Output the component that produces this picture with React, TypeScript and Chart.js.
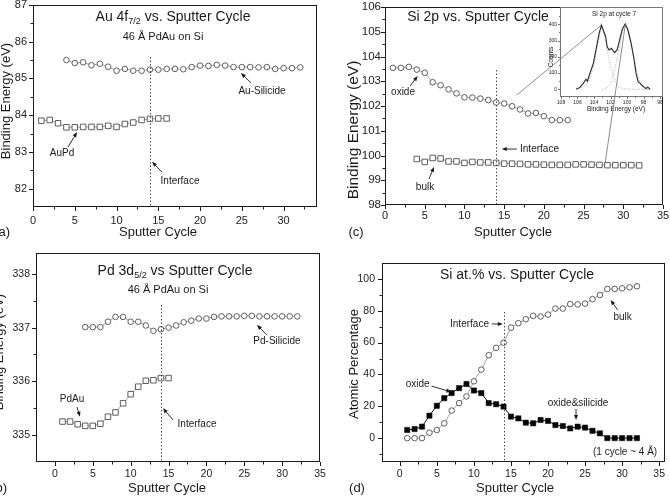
import { useEffect, useRef } from "react";
import { Chart, registerables } from "chart.js";

Chart.register(...registerables);

const W = 670;
const H = 500;
const FONT = '"Liberation Sans", Arial, Helvetica, sans-serif';

// ---------- (a) Au 4f7/2 binding energy ----------
const auSilicideCycles = [4, 5, 6, 7, 8, 9, 10, 11, 12, 13, 14, 15, 16, 17, 18, 19, 20, 21, 22, 23, 24, 25, 26, 27, 28, 29, 30, 31, 32];
const auSilicideBE = [85.5, 85.42, 85.44, 85.36, 85.4, 85.32, 85.21, 85.26, 85.21, 85.21, 85.24, 85.24, 85.26, 85.26, 85.25, 85.31, 85.35, 85.34, 85.37, 85.35, 85.31, 85.31, 85.31, 85.3, 85.31, 85.26, 85.28, 85.28, 85.3];
const auPdCycles = [1, 2, 3, 4, 5, 6, 7, 8, 9, 10, 11, 12, 13, 14, 15, 16];
const auPdBE = [83.85, 83.87, 83.78, 83.67, 83.67, 83.68, 83.68, 83.68, 83.71, 83.68, 83.76, 83.8, 83.87, 83.9, 83.91, 83.91];

// ---------- (b) Pd 3d5/2 binding energy ----------
const pdSilicideCycles = [4, 5, 6, 7, 8, 9, 10, 11, 12, 13, 14, 15, 16, 17, 18, 19, 20, 21, 22, 23, 24, 25, 26, 27, 28, 29, 30, 31, 32];
const pdSilicideBE = [337.01, 337.01, 337.01, 337.11, 337.2, 337.2, 337.11, 337.11, 337.04, 336.94, 336.97, 337.0, 337.04, 337.1, 337.13, 337.17, 337.17, 337.2, 337.21, 337.21, 337.21, 337.22, 337.22, 337.21, 337.21, 337.21, 337.21, 337.21, 337.21];
const pdAuCycles = [1, 2, 3, 4, 5, 6, 7, 8, 9, 10, 11, 12, 13, 14, 15];
const pdAuBE = [335.25, 335.25, 335.2, 335.17, 335.17, 335.21, 335.34, 335.42, 335.59, 335.76, 335.9, 336.01, 336.02, 336.06, 336.06];

// ---------- (c) Si 2p binding energy ----------
const siOxideCycles = [1, 2, 3, 4, 5, 6, 7, 8, 9, 10, 11, 12, 13, 14, 15, 16, 17, 18, 19, 20, 21, 22, 23];
const siOxideBE = [103.54, 103.54, 103.58, 103.47, 103.34, 102.96, 102.84, 102.67, 102.51, 102.35, 102.34, 102.3, 102.24, 102.14, 102.1, 101.99, 101.86, 101.7, 101.72, 101.59, 101.43, 101.43, 101.43];
const siBulkCycles = [4, 5, 6, 7, 8, 9, 10, 11, 12, 13, 14, 15, 16, 17, 18, 19, 20, 21, 22, 23, 24, 25, 26, 27, 28, 29, 30, 31, 32];
const siBulkBE = [99.86, 99.74, 99.9, 99.88, 99.76, 99.76, 99.7, 99.74, 99.72, 99.72, 99.7, 99.67, 99.67, 99.66, 99.64, 99.64, 99.63, 99.62, 99.62, 99.62, 99.64, 99.64, 99.63, 99.62, 99.61, 99.61, 99.61, 99.61, 99.6];

// Inset: Si 2p spectrum at cycle 7 with its two fitted components
const spectrumBE = [106.17, 105.7, 105.3, 104.97, 104.8, 104.56, 104.08, 103.69, 103.37, 103.09, 102.81, 102.58, 102.41, 102.17, 101.9, 101.5, 101.2, 100.9, 100.57, 100.22, 99.9, 99.5, 99.17, 98.9, 98.66, 98.4, 98.2, 97.9, 97.7, 97.5, 97.2];
const spectrumCounts = [0, 12, 37, 62, 50, 88, 160, 262, 345, 395, 354, 323, 262, 242, 252, 225, 242, 303, 369, 402, 366, 283, 191, 98, 47, 37, 25, 12, 5, 15, 0];
const fitOxideBE = [106.1, 105.5, 105, 104.5, 104, 103.5, 103.1, 102.7, 102.3, 102, 101.5, 101, 100.5, 100, 99, 98, 97.2];
const fitOxideCounts = [3, 10, 25, 65, 150, 290, 385, 330, 215, 140, 55, 15, 5, 2, 0, 0, 0];
const fitBulkBE = [103, 102.5, 102, 101.5, 101, 100.6, 100.2, 99.8, 99.3, 98.8, 98.3, 97.8, 97.2];
const fitBulkCounts = [0, 5, 35, 120, 235, 350, 400, 360, 230, 100, 30, 8, 0];

// ---------- (d) Si atomic percentage ----------
const atCycles = [1, 2, 3, 4, 5, 6, 7, 8, 9, 10, 11, 12, 13, 14, 15, 16, 17, 18, 19, 20, 21, 22, 23, 24, 25, 26, 27, 28, 29, 30, 31, 32];
const siBulkPct = [0, 0, 0, 3.4, 5.1, 9.3, 17.3, 22, 26.2, 35.7, 43, 52.1, 56.7, 59.9, 69.4, 72.2, 74.7, 76.8, 76.4, 77.6, 81.4, 81.4, 84.2, 84, 84.5, 87.3, 89.9, 93.7, 93.7, 94.1, 94.7, 95.4];
const siOxidePct = [5.1, 5.7, 7.2, 14.1, 20.3, 25.1, 28.3, 31.4, 34, 29.9, 28.3, 22, 21.3, 19.8, 13.5, 12.4, 9.7, 9.3, 11.4, 10.8, 8.2, 7.6, 6.1, 7.2, 6.6, 4.6, 3, 0, 0, 0, 0, 0];

// Tick values
const cycleTicks = [0, 5, 10, 15, 20, 25, 30, 35];
const cycleMinor = [2.5, 7.5, 12.5, 17.5, 22.5, 27.5, 32.5];
const auTicks = [82, 83, 84, 85, 86, 87];
const auMinor = [82.5, 83.5, 84.5, 85.5, 86.5];
const pdTicks = [335, 336, 337, 338];
const pdMinor = [335.5, 336.5, 337.5];
const siTicks = [98, 99, 100, 101, 102, 103, 104, 105, 106];
const siMinor = [98.5, 99.5, 100.5, 101.5, 102.5, 103.5, 104.5, 105.5];
const pctTicks = [0, 20, 40, 60, 80, 100];
const pctMinor = [-10, 10, 30, 50, 70, 90];
const insetBETicks = [96, 98, 100, 102, 104, 106, 108];
const insetBEMinor = [97, 99, 101, 103, 105, 107];
const insetCountTicks = [0, 100, 200, 300, 400];
const insetCountMinor = [50, 150, 250, 350, 450];

const INTERFACE_CYCLE = 14;

type Pt = [number, number];
type Style = "circle" | "square" | "filled" | "spectrum" | "fit";
interface Series { xs: number[]; ys: number[]; style: Style }
interface AxisSpec { min: number; max: number; major: number[]; minor: number[]; reverse?: boolean; font: number; pad: number }
interface RichPart { t: string; sub?: boolean }
interface TextItem { parts: RichPart[]; x: number; y: number; size: number; align?: CanvasTextAlign; rotate?: boolean }
interface Note { text: string; at: Pt; align?: CanvasTextAlign }
interface PanelSpec {
  area: { left: number; top: number; right: number; bottom: number };
  x: AxisSpec;
  y: AxisSpec;
  series: Series[];
  iface?: number;
  notes: Note[];
  arrows: { from: Pt; to: Pt }[];
  texts: TextItem[];
  noteSize?: number;
  frameColor?: string;
  tickLen?: [number, number];
}

const txt = (s: string): RichPart[] => [{ t: s }];

const panelA: PanelSpec = {
  area: { left: 33, top: 5, right: 317, bottom: 207 },
  x: { min: 0, max: 34, major: cycleTicks.slice(0, 7), minor: cycleMinor, font: 11, pad: 7 },
  y: { min: 81.5, max: 87, major: auTicks, minor: auMinor, font: 11, pad: 6 },
  series: [
    { xs: auSilicideCycles, ys: auSilicideBE, style: "circle" },
    { xs: auPdCycles, ys: auPdBE, style: "square" },
  ],
  iface: 85.58,
  notes: [
    { text: "AuPd", at: [3.47, 82.97] },
    { text: "Au-Silicide", at: [27.42, 84.66] },
    { text: "Interface", at: [17.6, 82.21] },
  ],
  arrows: [
    { from: [4.19, 83.13], to: [5.27, 83.54] },
    { from: [26.1, 84.88], to: [24.9, 85.15] },
    { from: [15.44, 82.45], to: [14.25, 82.73] },
  ],
  texts: [
    { parts: [{ t: "Au 4f" }, { t: "7/2", sub: true }, { t: " vs. Sputter Cycle" }], x: 173, y: 17, size: 14 },
    { parts: txt("46 Å PdAu on Si"), x: 163, y: 37, size: 11 },
    { parts: txt("Binding Energy (eV)"), x: 6, y: 101, size: 13, rotate: true },
    { parts: txt("Sputter Cycle"), x: 158, y: 232, size: 13 },
    { parts: txt("(a)"), x: 10, y: 232, size: 13, align: "right" },
  ],
};

const panelB: PanelSpec = {
  area: { left: 36, top: 252.5, right: 320, bottom: 461.8 },
  x: { min: -2.5, max: 35, major: cycleTicks, minor: cycleMinor, font: 10.5, pad: 6 },
  y: { min: 334.5, max: 338.4, major: pdTicks, minor: pdMinor, font: 10.5, pad: 6 },
  series: [
    { xs: pdSilicideCycles, ys: pdSilicideBE, style: "circle" },
    { xs: pdAuCycles, ys: pdAuBE, style: "square" },
  ],
  iface: 337.42,
  notes: [
    { text: "PdAu", at: [2.25, 335.67] },
    { text: "Pd-Silicide", at: [29.32, 336.75] },
    { text: "Interface", at: [18.76, 335.2] },
  ],
  arrows: [
    { from: [2.91, 335.52], to: [3.31, 335.34] },
    { from: [28.0, 336.86], to: [26.68, 337.05] },
    { from: [15.59, 335.28], to: [14.27, 335.5] },
  ],
  texts: [
    { parts: [{ t: "Pd 3d" }, { t: "5/2", sub: true }, { t: " vs Sputter Cycle" }], x: 175, y: 271, size: 14 },
    { parts: txt("46 Å PdAu on Si"), x: 168, y: 290, size: 11 },
    { parts: txt("Binding Energy (eV)"), x: -1, y: 352, size: 13, rotate: true },
    { parts: txt("Sputter Cycle"), x: 167, y: 488, size: 13 },
    { parts: txt("(b)"), x: 7, y: 488, size: 13, align: "right" },
  ],
};

const panelC: PanelSpec = {
  area: { left: 385, top: 7, right: 663, bottom: 205 },
  x: { min: 0, max: 35, major: cycleTicks, minor: cycleMinor, font: 11, pad: 4 },
  y: { min: 98, max: 106, major: siTicks, minor: siMinor, font: 11.5, pad: 4 },
  series: [
    { xs: siOxideCycles, ys: siOxideBE, style: "circle" },
    { xs: siBulkCycles, ys: siBulkBE, style: "square" },
  ],
  iface: 103.45,
  notes: [
    { text: "oxide", at: [2.27, 102.54] },
    { text: "bulk", at: [5.04, 98.73] },
    { text: "Interface", at: [17.0, 100.26], align: "left" },
  ],
  arrows: [
    { from: [3.15, 102.81], to: [4.12, 103.21] },
    { from: [5.54, 99.05], to: [6.17, 99.54] },
    { from: [16.6, 100.26], to: [14.7, 100.26] },
  ],
  texts: [
    { parts: txt("Si 2p vs. Sputter Cycle"), x: 478, y: 17, size: 14 },
    { parts: txt("Binding Energy (eV)"), x: 354, y: 130, size: 15.5, rotate: true },
    { parts: txt("Sputter Cycle"), x: 513, y: 232, size: 13 },
    { parts: txt("(c)"), x: 356, y: 232, size: 13 },
  ],
};

const panelD: PanelSpec = {
  area: { left: 382, top: 263, right: 668, bottom: 462 },
  x: { min: -2.4, max: 35.8, major: cycleTicks, minor: cycleMinor, font: 10.5, pad: 6 },
  y: { min: -15, max: 110, major: pctTicks, minor: pctMinor, font: 10.5, pad: 7 },
  series: [
    { xs: atCycles, ys: siBulkPct, style: "circle" },
    { xs: atCycles, ys: siOxidePct, style: "filled" },
  ],
  iface: 79.2,
  notes: [
    { text: "Interface", at: [12.03, 71.7], align: "right" },
    { text: "bulk", at: [30.06, 76.1] },
    { text: "oxide", at: [2.41, 34.0] },
    { text: "oxide&silicide", at: [24.05, 22.1] },
    { text: "(1 cycle ~ 4 Å)", at: [34.73, -8.7], align: "right" },
  ],
  arrows: [
    { from: [12.43, 71.7], to: [13.9, 71.7] },
    { from: [29.39, 80.5], to: [28.45, 86.8] },
    { from: [4.28, 32.7], to: [6.95, 29.0] },
    { from: [23.78, 18.3], to: [23.78, 11.4] },
  ],
  texts: [
    { parts: txt("Si at.% vs. Sputter Cycle"), x: 517, y: 275, size: 14 },
    { parts: txt("Atomic Percentage"), x: 354, y: 364, size: 13, rotate: true },
    { parts: txt("Sputter Cycle"), x: 515, y: 488, size: 13 },
    { parts: txt("(d)"), x: 357, y: 488, size: 13 },
  ],
};

const insetSpec: PanelSpec = {
  area: { left: 560, top: 7, right: 663, bottom: 97 },
  x: { min: 95.64, max: 108.12, reverse: true, major: insetBETicks, minor: insetBEMinor, font: 5, pad: 3 },
  y: { min: -47, max: 506, major: insetCountTicks, minor: insetCountMinor, font: 5, pad: 3 },
  series: [
    { xs: spectrumBE, ys: spectrumCounts, style: "spectrum" },
    { xs: fitOxideBE, ys: fitOxideCounts, style: "fit" },
    { xs: fitBulkBE, ys: fitBulkCounts, style: "fit" },
  ],
  notes: [],
  arrows: [],
  texts: [
    { parts: txt("Si 2p at cycle 7"), x: 614, y: 14, size: 6.5 },
    { parts: txt("Counts"), x: 551, y: 57, size: 6.5, rotate: true },
    { parts: txt("Binding Energy (eV)"), x: 616, y: 109, size: 6.5 },
  ],
  frameColor: "#777",
  tickLen: [2, 1],
};

// Guide lines from the main Si 2p plot (c) to the matching peaks of the inset
const insetLinks: { from: Pt; to: Pt }[] = [
  { from: [16.58, 102.44], to: [103.0, 400] },
  { from: [27.71, 99.68], to: [100.2, 400] },
];

function datasetFor(s: Series) {
  const data = s.xs.map((x, i) => ({ x, y: s.ys[i] }));
  const base = { data, tension: 0, fill: false };
  switch (s.style) {
    case "circle":
      return { ...base, borderColor: "#8c8c8c", borderWidth: 0.8, pointStyle: "circle", pointRadius: 2.8, pointBorderColor: "#4d4d4d", pointBackgroundColor: "#ffffff", pointBorderWidth: 0.9 };
    case "square":
      return { ...base, borderColor: "#8c8c8c", borderWidth: 0.8, pointStyle: "rect", pointRadius: 3.9, pointBorderColor: "#4d4d4d", pointBackgroundColor: "#ffffff", pointBorderWidth: 0.9 };
    case "filled":
      return { ...base, borderColor: "#111111", borderWidth: 1, pointStyle: "rect", pointRadius: 3.7, pointBorderColor: "#000000", pointBackgroundColor: "#000000", pointBorderWidth: 0.5 };
    case "spectrum":
      return { ...base, borderColor: "#262626", borderWidth: 1.1, pointRadius: 0 };
    default:
      return { ...base, borderColor: "#9a9a9a", borderWidth: 0.8, borderDash: [1, 1.5], pointRadius: 0 };
  }
}

function drawRich(ctx: CanvasRenderingContext2D, item: TextItem) {
  const mainFont = `${item.size}px ${FONT}`;
  const subFont = `${Math.round(item.size * 0.62)}px ${FONT}`;
  const widths = item.parts.map((p) => {
    ctx.font = p.sub ? subFont : mainFont;
    return ctx.measureText(p.t).width;
  });
  const total = widths.reduce((a, b) => a + b, 0);
  ctx.save();
  ctx.translate(item.x, item.y);
  if (item.rotate) ctx.rotate(-Math.PI / 2);
  const align = item.align ?? "center";
  let x = align === "center" ? -total / 2 : align === "right" ? -total : 0;
  ctx.textAlign = "left";
  ctx.textBaseline = "middle";
  ctx.fillStyle = "#1a1a1a";
  item.parts.forEach((p, i) => {
    ctx.font = p.sub ? subFont : mainFont;
    ctx.fillText(p.t, x, p.sub ? item.size * 0.32 : 0);
    x += widths[i];
  });
  ctx.restore();
}

function drawArrow(ctx: CanvasRenderingContext2D, x1: number, y1: number, x2: number, y2: number) {
  const ang = Math.atan2(y2 - y1, x2 - x1);
  const len = 5;
  const half = 2;
  ctx.beginPath();
  ctx.moveTo(x1, y1);
  ctx.lineTo(x2 - Math.cos(ang) * len * 0.8, y2 - Math.sin(ang) * len * 0.8);
  ctx.stroke();
  ctx.beginPath();
  ctx.moveTo(x2, y2);
  ctx.lineTo(x2 - Math.cos(ang) * len - Math.sin(ang) * half, y2 - Math.sin(ang) * len + Math.cos(ang) * half);
  ctx.lineTo(x2 - Math.cos(ang) * len + Math.sin(ang) * half, y2 - Math.sin(ang) * len - Math.cos(ang) * half);
  ctx.closePath();
  ctx.fill();
}

function decorPlugin(spec: PanelSpec, extra?: (chart: Chart) => void) {
  return {
    id: "panelDecor",
    afterDraw(chart: Chart) {
      const ctx = chart.ctx;
      const xs = chart.scales.x;
      const ys = chart.scales.y;
      const [majorLen, minorLen] = spec.tickLen ?? [4, 2.5];
      const l = Math.round(xs.left);
      const r = Math.round(xs.right);
      const t = Math.round(ys.top);
      const b = Math.round(ys.bottom);
      ctx.save();
      ctx.setLineDash([]);
      ctx.globalAlpha = 1;
      ctx.globalCompositeOperation = "source-over";

      // frame, drawn as 1px filled strips
      ctx.fillStyle = spec.frameColor ?? "#1a1a1a";
      ctx.fillRect(l, t, r - l, 1);
      ctx.fillRect(l, b - 1, r - l, 1);
      ctx.fillRect(l, t, 1, b - t);
      ctx.fillRect(r - 1, t, 1, b - t);

      // outward ticks on the left and bottom axes
      const tickX = (v: number, len: number) => {
        const px = Math.round(xs.getPixelForValue(v));
        ctx.fillRect(px, b, 1, len);
      };
      const tickY = (v: number, len: number) => {
        const py = Math.round(ys.getPixelForValue(v));
        ctx.fillRect(l - len, py, len, 1);
      };
      spec.x.major.forEach((v) => tickX(v, majorLen));
      spec.x.minor.forEach((v) => tickX(v, minorLen));
      spec.y.major.forEach((v) => tickY(v, majorLen));
      spec.y.minor.forEach((v) => tickY(v, minorLen));

      // interface marker
      if (spec.iface !== undefined) {
        const px = Math.round(xs.getPixelForValue(INTERFACE_CYCLE)) + 0.5;
        ctx.save();
        ctx.strokeStyle = "#333";
        ctx.lineWidth = 1;
        ctx.setLineDash([1.3, 2.2]);
        ctx.beginPath();
        ctx.moveTo(px, ys.getPixelForValue(spec.iface));
        ctx.lineTo(px, b);
        ctx.stroke();
        ctx.restore();
      }

      // arrows and notes
      ctx.strokeStyle = "#1a1a1a";
      ctx.fillStyle = "#1a1a1a";
      ctx.lineWidth = 0.9;
      spec.arrows.forEach((a) => {
        drawArrow(ctx, xs.getPixelForValue(a.from[0]), ys.getPixelForValue(a.from[1]), xs.getPixelForValue(a.to[0]), ys.getPixelForValue(a.to[1]));
      });
      ctx.font = `${spec.noteSize ?? 10}px ${FONT}`;
      ctx.textBaseline = "middle";
      spec.notes.forEach((n) => {
        ctx.textAlign = n.align ?? "center";
        ctx.fillText(n.text, xs.getPixelForValue(n.at[0]), ys.getPixelForValue(n.at[1]));
      });

      spec.texts.forEach((item) => drawRich(ctx, item));
      ctx.restore();
      if (extra) extra(chart);
    },
  };
}

function axisOptions(a: AxisSpec, axis: "x" | "y", spec: PanelSpec) {
  return {
    type: "linear" as const,
    min: a.min,
    max: a.max,
    reverse: !!a.reverse,
    grid: { display: false, drawTicks: false, tickLength: 0 },
    border: { display: false },
    ticks: {
      autoSkip: false,
      maxRotation: 0,
      padding: a.pad,
      color: "#222",
      font: { family: FONT, size: a.font },
      callback: (v: number | string) => String(v),
    },
    afterBuildTicks: (s: any) => {
      s.ticks = a.major.map((v) => ({ value: v }));
    },
    afterFit: (s: any) => {
      if (axis === "x") {
        s.height = H - spec.area.bottom;
        s.paddingLeft = 0;
        s.paddingRight = 0;
      } else {
        s.width = spec.area.left;
        s.paddingTop = 0;
        s.paddingBottom = 0;
      }
    },
  };
}

function buildChart(canvas: HTMLCanvasElement, spec: PanelSpec, extra?: (chart: Chart) => void) {
  return new Chart(canvas, {
    type: "line",
    data: { datasets: spec.series.map(datasetFor) as any },
    options: {
      animation: false,
      responsive: false,
      events: [],
      layout: { padding: { left: 0, top: spec.area.top, right: W - spec.area.right, bottom: 0 } },
      plugins: { legend: { display: false }, tooltip: { enabled: false }, title: { display: false } },
      scales: { x: axisOptions(spec.x, "x", spec), y: axisOptions(spec.y, "y", spec) } as any,
    },
    plugins: [decorPlugin(spec, extra)],
  });
}

export default function App() {
  const refA = useRef<HTMLCanvasElement>(null);
  const refB = useRef<HTMLCanvasElement>(null);
  const refC = useRef<HTMLCanvasElement>(null);
  const refD = useRef<HTMLCanvasElement>(null);
  const refI = useRef<HTMLCanvasElement>(null);

  useEffect(() => {
    const a = buildChart(refA.current!, panelA);
    const b = buildChart(refB.current!, panelB);
    const c = buildChart(refC.current!, panelC);
    const d = buildChart(refD.current!, panelD);
    const inset = buildChart(refI.current!, insetSpec, (chart) => {
      const ctx = chart.ctx;
      ctx.save();
      ctx.strokeStyle = "#6e6e6e";
      ctx.lineWidth = 0.8;
      insetLinks.forEach((lk) => {
        ctx.beginPath();
        ctx.moveTo(c.scales.x.getPixelForValue(lk.from[0]), c.scales.y.getPixelForValue(lk.from[1]));
        ctx.lineTo(chart.scales.x.getPixelForValue(lk.to[0]), chart.scales.y.getPixelForValue(lk.to[1]));
        ctx.stroke();
      });
      ctx.restore();
    });
    return () => {
      [a, b, c, d, inset].forEach((ch) => ch.destroy());
    };
  }, []);

  const canvasStyle = { position: "absolute" as const, left: 0, top: 0 };
  return (
    <div style={{ position: "absolute", left: 0, top: 0, width: W, height: H, background: "#ffffff", overflow: "hidden" }}>
      <canvas ref={refA} width={W} height={H} style={canvasStyle} />
      <canvas ref={refB} width={W} height={H} style={canvasStyle} />
      <canvas ref={refC} width={W} height={H} style={canvasStyle} />
      <canvas ref={refD} width={W} height={H} style={canvasStyle} />
      <canvas ref={refI} width={W} height={H} style={canvasStyle} />
    </div>
  );
}
